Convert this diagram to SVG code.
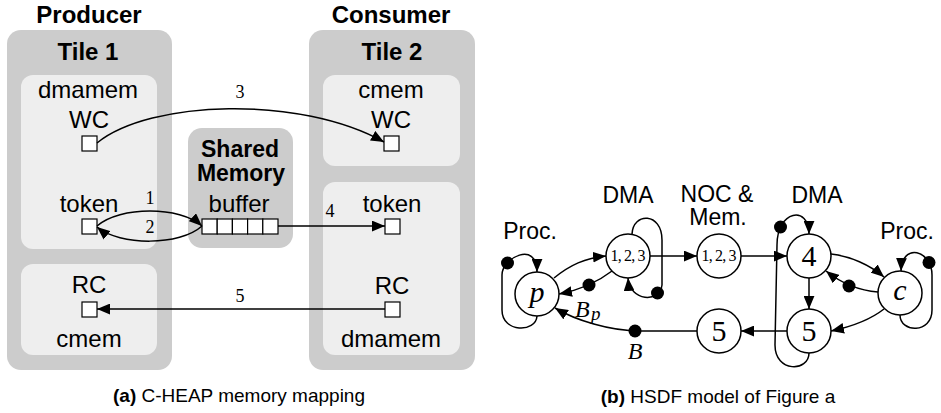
<svg xmlns="http://www.w3.org/2000/svg" width="941" height="413" viewBox="0 0 941 413">
<defs>
<marker id="ah" viewBox="0 0 12 10" refX="12" refY="5" markerWidth="13" markerHeight="11" markerUnits="userSpaceOnUse" orient="auto">
<path d="M0,0 L12,5 L0,10 Z" fill="#000"/>
</marker>
<style>
.tile{fill:#cccccc}
.mem{fill:#eeeeee}
.sq{fill:#fff;stroke:#000;stroke-width:1.2}
.s{font-family:"Liberation Sans",Arial,sans-serif;font-size:24px;text-anchor:middle;fill:#000}
.b{font-weight:bold}
.r{font-family:"Liberation Sans",Arial,sans-serif;font-size:23px;text-anchor:middle;fill:#000}
.n{font-family:"Liberation Serif","Times New Roman",serif;font-size:18px;text-anchor:middle;fill:#000}
.sm{font-family:"Liberation Serif","Times New Roman",serif;font-size:16px;text-anchor:middle;fill:#000}
.lab{font-family:"Liberation Serif","Times New Roman",serif;font-size:24px;font-style:italic;fill:#000}
.sub{font-family:"Liberation Serif","Times New Roman",serif;font-size:19px;font-style:italic;fill:#000}
.big{font-family:"Liberation Serif","Times New Roman",serif;font-size:30px;text-anchor:middle;fill:#000}
.it{font-style:italic}
.cap{font-family:"Liberation Sans",Arial,sans-serif;font-size:19px;text-anchor:middle;fill:#000}
.ea{fill:none;stroke:#000;stroke-width:1.5;marker-end:url(#ah)}
.nd{fill:#fff;stroke:#000;stroke-width:1.5}
.tk{fill:#000}
</style>
</defs>

<!-- (a) panel -->
<g id="producer">
<text class="s b" x="89" y="23">Producer</text>
<rect class="tile" x="7" y="30" width="165" height="340" rx="14"/>
<text class="s b" x="88" y="60">Tile 1</text>
</g>
<g id="tile1-mem1">
<rect class="mem" x="21" y="75" width="136" height="174" rx="12"/>
<text class="s" x="88" y="98">dmamem</text>
<text class="s" x="89" y="128">WC</text>
<rect class="sq" x="82" y="136" width="15" height="15"/>
<text class="s" x="89" y="212">token</text>
<rect class="sq" x="82" y="219" width="15" height="15"/>
</g>
<g id="tile1-mem2">
<rect class="mem" x="21" y="264" width="136" height="91" rx="12"/>
<text class="s" x="89" y="293">RC</text>
<rect class="sq" x="82" y="302" width="15" height="15"/>
<text class="s" x="89" y="347">cmem</text>
</g>

<g id="consumer">
<text class="s b" x="391" y="23">Consumer</text>
<rect class="tile" x="309" y="30" width="166" height="340" rx="14"/>
<text class="s b" x="392" y="60">Tile 2</text>
</g>
<g id="tile2-mem1">
<rect class="mem" x="323" y="75" width="137" height="91" rx="12"/>
<text class="s" x="391" y="98">cmem</text>
<text class="s" x="391" y="128">WC</text>
<rect class="sq" x="384" y="136" width="15" height="15"/>
</g>
<g id="tile2-mem2">
<rect class="mem" x="323" y="182" width="137" height="173" rx="12"/>
<text class="s" x="392" y="212">token</text>
<rect class="sq" x="385" y="219" width="15" height="15"/>
<text class="s" x="392" y="294">RC</text>
<rect class="sq" x="385" y="302" width="15" height="15"/>
<text class="s" x="391" y="347">dmamem</text>
</g>

<g id="shared-memory">
<rect class="tile" x="188" y="128" width="105" height="120" rx="14"/>
<text class="s b" x="240" y="157" style="font-size:23px">Shared</text>
<text class="s b" x="241" y="181" style="font-size:23px">Memory</text>
<text class="s" x="239" y="212">buffer</text>
<rect class="sq" x="202" y="219" width="15.2" height="15"/>
<rect class="sq" x="217.2" y="219" width="15.2" height="15"/>
<rect class="sq" x="232.4" y="219" width="15.2" height="15"/>
<rect class="sq" x="247.6" y="219" width="15.2" height="15"/>
<rect class="sq" x="262.8" y="219" width="15.2" height="15"/>
</g>

<g id="connectors-a">
<path class="ea" d="M97,143 C150,100 300,95 384,142"/>
<text class="n" x="240" y="98">3</text>
<path class="ea" d="M97,226 C120,206 180,206 202,226"/>
<text class="n" x="150" y="204">1</text>
<path class="ea" d="M202,226 C180,246 120,246 97,227"/>
<text class="n" x="150" y="233">2</text>
<path class="ea" d="M278,226 L385,226"/>
<text class="n" x="330" y="217">4</text>
<path class="ea" d="M385,309 L97,309"/>
<text class="n" x="240" y="302">5</text>
</g>

<text class="cap" x="239" y="402"><tspan font-weight="bold">(a)</tspan> C-HEAP memory mapping</text>

<!-- (b) panel -->
<g id="labels-b">
<text class="r" x="530" y="239">Proc.</text>
<text class="r" x="628" y="203">DMA</text>
<text class="r" x="717" y="202">NOC &amp;</text>
<text class="r" x="718" y="225">Mem.</text>
<text class="r" x="817" y="203">DMA</text>
<text class="r" x="907" y="239">Proc.</text>
</g>

<g id="connectors-b">
<path class="ea" d="M537,316 C536,333 502,333 502,310 L502,275 C502,258 537,240 537,272"/>
<circle class="tk" cx="507.5" cy="263" r="6.5"/>
<path class="ea" d="M554,278 C570,265 585,258 606,256"/>
<path class="ea" d="M612,271 Q590,288 559,294"/>
<circle class="tk" cx="589" cy="285" r="6.5"/>
<path class="ea" d="M632,234 C633,212 662,212 662,240 L662,285 C660,303 630,302 628,278"/>
<circle class="tk" cx="657.5" cy="293" r="6.5"/>
<path class="ea" d="M650,256 L697,256"/>
<path class="ea" d="M741,256 L787,256"/>
<path class="ea" d="M809,353 C809,372 775,373 775,345 L777,245 C777,210 809,205 809,234"/>
<circle class="tk" cx="780.5" cy="227" r="6.5"/>
<path class="ea" d="M831,254 C850,256 870,265 884,277"/>
<path class="ea" d="M878,292 Q850,290 826,271"/>
<circle class="tk" cx="849" cy="286" r="6.5"/>
<path class="ea" d="M809,278 L809,309"/>
<path class="ea" d="M884,309 C870,320 850,327 831,331"/>
<path class="ea" d="M900,315 C900,333 932,334 932,310 L932,275 C932,250 902,242 901,271"/>
<circle class="tk" cx="929" cy="262.5" r="6.5"/>
<path class="ea" d="M787,331 L741,331"/>
<path class="ea" d="M697,331 L640,331 C610,331 575,320 555,308"/>
<circle class="tk" cx="635" cy="331" r="6.5"/>
<text class="lab" x="575" y="317">B</text>
<text class="sub" x="591" y="320">p</text>
<text class="lab" x="635" y="359" text-anchor="middle">B</text>
</g>

<g id="node-p">
<circle class="nd" cx="537" cy="294" r="22"/>
<text class="big it" x="537" y="302">p</text>
</g>
<g id="node-dma1">
<circle class="nd" cx="628" cy="256" r="22"/>
<text class="sm" x="628" y="261" textLength="35" lengthAdjust="spacing">1, 2, 3</text>
</g>
<g id="node-noc">
<circle class="nd" cx="719" cy="256" r="22"/>
<text class="sm" x="719" y="261" textLength="35" lengthAdjust="spacing">1, 2, 3</text>
</g>
<g id="node-4">
<circle class="nd" cx="809" cy="256" r="22"/>
<text class="big" x="809" y="266">4</text>
</g>
<g id="node-c">
<circle class="nd" cx="900" cy="293" r="22"/>
<text class="big it" x="900" y="300">c</text>
</g>
<g id="node-5r">
<circle class="nd" cx="809" cy="331" r="22"/>
<text class="big" x="809" y="341">5</text>
</g>
<g id="node-5l">
<circle class="nd" cx="719" cy="331" r="22"/>
<text class="big" x="719" y="341">5</text>
</g>

<text class="cap" x="718" y="403"><tspan font-weight="bold">(b)</tspan> HSDF model of Figure a</text>
</svg>
